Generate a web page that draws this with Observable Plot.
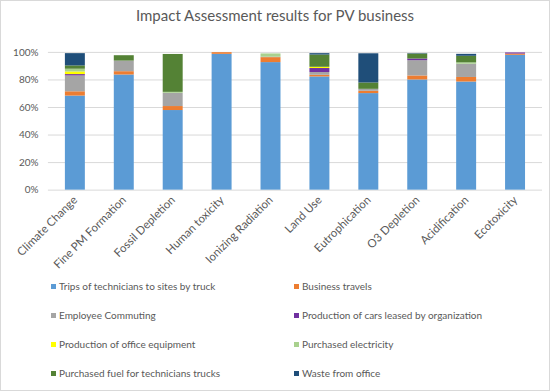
<!DOCTYPE html>
<html>
<head>
<meta charset="utf-8">
<script src="https://cdn.jsdelivr.net/npm/d3@7"></script>
<script src="https://cdn.jsdelivr.net/npm/@observablehq/plot@0.6"></script>
<style>
  html, body { margin: 0; padding: 0; background: #fff; }
  #wrap { position: relative; width: 548px; height: 389px; border: 1px solid #d9d9d9; font-family: Lato, "Open Sans", sans-serif; overflow: hidden; }
  #title { position: absolute; left: 0; right: 0; top: 5px; text-align: center; font-size: 15px; color: #595959; }
  #chart { position: absolute; left: -1px; top: -1px; }
  #legend { position: absolute; left: 0; top: 0; width: 100%; height: 100%; pointer-events: none; }
  .item { position: absolute; font-size: 10px; color: #595959; white-space: nowrap; line-height: 12px; }
  .sw { display: inline-block; width: 5px; height: 5px; margin-right: 3px; vertical-align: 1px; }
</style>
</head>
<body>
<div id="wrap">
  <div id="chart"></div>
  <div id="title">Impact Assessment results for PV business</div>
  <div id="legend"></div>
</div>
<script>
const categories = ["Climate Change", "Fine PM Formation", "Fossil Depletion", "Human toxicity", "Ionizing Radiation", "Land Use", "Eutrophication", "O3 Depletion", "Acidification", "Ecotoxicity"];
const seriesNames = ["Trips of technicians to sites by truck", "Business travels", "Employee Commuting", "Production of cars leased by organization", "Production of office equipment", "Purchased electricity", "Purchased fuel for technicians trucks", "Waste from office"];
const trips       = [68.3, 83.6, 57.8, 98.6, 92.6, 82.2, 70.1, 80.0, 78.5, 97.9];
const business    = [3.1, 2.4, 2.9, 1.2, 3.6, 1.2, 1.7, 2.9, 3.3, 0.9];
const commuting   = [11.5, 7.7, 9.6, 0, 0.3, 2.0, 1.4, 11.1, 9.6, 0];
const cars        = [1.0, 0, 0, 0, 0, 2.9, 0, 1.2, 0, 0.8];
const officeEquip = [1.9, 0, 0, 0, 0, 0.9, 0, 0, 0, 0];
const electricity = [2.0, 0, 0.7, 0, 2.4, 0, 0, 0, 1.0, 0];
const fuel        = [2.4, 3.9, 27.5, 0, 0, 8.9, 4.6, 3.6, 4.8, 0];
const waste       = [8.9, 0, 0, 0, 0, 1.0, 21.2, 0.3, 1.4, 0];
const yTicks = [0, 20, 40, 60, 80, 100];
const colors = ["#5B9BD5", "#ED7D31", "#A5A5A5", "#7030A0", "#FFFF00", "#A9D18E", "#548235", "#1F4E79"];

const seriesValues = [trips, business, commuting, cars, officeEquip, electricity, fuel, waste];
const data = [];
seriesValues.forEach((vals, si) => {
  vals.forEach((v, ci) => data.push({category: categories[ci], series: seriesNames[si], value: v}));
});

const chart = Plot.plot({
  width: 550,
  height: 270,
  marginTop: 52,
  marginBottom: 80,
  marginLeft: 48,
  marginRight: 7,
  style: { fontFamily: "Lato, 'Open Sans', sans-serif", fontSize: "10px", color: "#595959", background: "transparent" },
  x: { domain: categories, paddingInner: 0.6, paddingOuter: 0.3, label: null },
  y: { domain: [0, 100], label: null },
  color: { domain: seriesNames, range: colors },
  marks: [
    Plot.ruleY(yTicks, { stroke: "#d9d9d9", strokeWidth: 1 }),
    Plot.barY(data, { x: "category", y: "value", fill: "series", order: null, inset: 0 }),
    Plot.axisY({ ticks: yTicks, tickFormat: d => d + "%", tickSize: 0, tickPadding: 10, fill: "#595959", fontSize: 10 }),
    Plot.axisX({ tickSize: 0, tickPadding: 8, tickRotate: -45, fill: "#595959", fontSize: 11.5 })
  ]
});
document.getElementById("chart").appendChild(chart);

const legend = document.getElementById("legend");
const legendLeft = [50, 293];
const legendTop = [279, 308, 337, 366];
seriesNames.forEach((name, i) => {
  const el = document.createElement("div");
  el.className = "item";
  el.style.left = legendLeft[i % 2] + "px";
  el.style.top = legendTop[Math.floor(i / 2)] + "px";
  const sw = document.createElement("span");
  sw.className = "sw";
  sw.style.background = colors[i];
  el.appendChild(sw);
  el.appendChild(document.createTextNode(name));
  legend.appendChild(el);
});
</script>
</body>
</html>
